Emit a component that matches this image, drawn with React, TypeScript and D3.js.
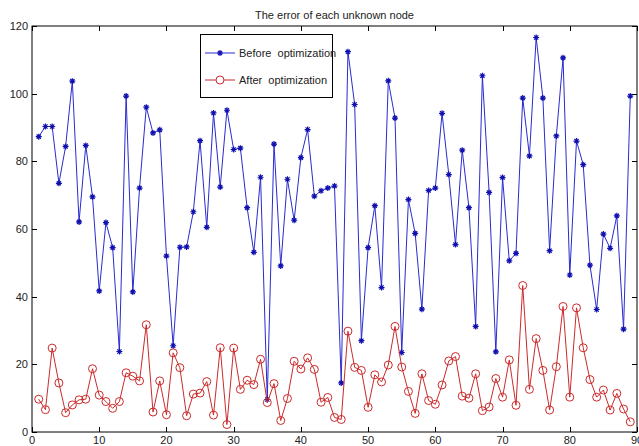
import React, { useEffect, useRef } from 'react';
import * as d3 from 'd3';

const titleText = 'The error of each unknown node';
const seriesNames = ['Before  optimization', 'After  optimization'];
const xTicks = [0, 10, 20, 30, 40, 50, 60, 70, 80, 90];
const yTicks = [0, 20, 40, 60, 80, 100, 120];

// error per node (nodes 1..89)
const before = [
  87.3, 90.3, 90.3, 73.5, 84.4, 103.7, 62.1, 84.7, 69.5, 41.7,
  61.9, 54.5, 23.8, 99.3, 41.4, 72.1, 96.0, 88.4, 89.3, 52.0,
  25.5, 54.6, 54.7, 65.1, 86.1, 60.5, 94.3, 72.4, 95.1, 83.5,
  83.9, 66.3, 53.1, 75.3, 9.6, 85.1, 49.1, 74.7, 62.6, 81.1,
  89.4, 69.7, 71.3, 72.1, 72.7, 14.5, 112.4, 96.8, 27.0, 54.5,
  66.9, 42.7, 103.8, 92.8, 23.5, 68.7, 58.7, 36.3, 71.4, 72.1,
  94.2, 76.1, 55.4, 83.3, 66.3, 31.2, 105.3, 70.8, 23.7, 75.2,
  50.6, 52.8, 98.7, 81.6, 116.6, 98.7, 53.6, 87.5, 110.6, 46.4,
  86.0, 79.0, 49.3, 36.2, 58.5, 54.3, 63.9, 30.4, 99.3,
];
const after = [
  9.7, 6.6, 24.8, 14.5, 5.7, 8.0, 9.5, 9.7, 18.7, 10.9,
  9.0, 7.0, 9.0, 17.5, 16.5, 15.1, 31.7, 5.9, 15.1, 5.1,
  23.4, 19.0, 4.8, 11.2, 11.5, 14.9, 5.0, 24.9, 2.2, 24.8,
  12.6, 15.3, 14.0, 21.5, 8.7, 14.3, 3.4, 9.9, 20.9, 18.6,
  21.9, 18.5, 8.8, 10.2, 4.3, 3.7, 29.8, 19.1, 18.2, 7.3,
  16.9, 14.8, 19.8, 31.2, 19.2, 12.0, 5.5, 17.2, 9.3, 8.2,
  13.9, 21.0, 22.3, 10.6, 10.0, 17.2, 6.3, 7.4, 15.8, 10.3,
  21.3, 7.9, 43.3, 12.6, 27.6, 18.2, 6.5, 19.3, 37.1, 10.3,
  36.7, 24.9, 15.5, 10.3, 12.4, 6.5, 11.4, 6.8, 3.0,
];

const blue = '#2a2ad0';
const red = '#cc2a2a';
const font = '"Liberation Sans Narrow", "Liberation Sans", Arial, sans-serif';

export default function App() {
  const ref = useRef<SVGSVGElement | null>(null);

  useEffect(() => {
    document.body.style.margin = '0';
    if (!ref.current) return;
    const width = 639;
    const height = 446;
    const margin = { top: 26, right: 2, bottom: 14, left: 32 };

    const svg = d3.select(ref.current);
    svg.selectAll('*').remove();
    svg.attr('width', width).attr('height', height);
    svg.append('rect').attr('width', width).attr('height', height).attr('fill', '#fff');

    const x = d3.scaleLinear().domain([0, 90]).range([margin.left, width - margin.right]);
    const y = d3.scaleLinear().domain([0, 120]).range([height - margin.bottom, margin.top]);

    const x0 = x(0), x1 = x(90), y0 = y(0), y1 = y(120);

    // ticks on all four sides, pointing in
    const g = svg.append('g').attr('stroke', '#000').attr('stroke-width', 1);
    xTicks.forEach(t => {
      const px = Math.round(x(t)) + 0.5;
      g.append('line').attr('x1', px).attr('x2', px).attr('y1', y0).attr('y2', y0 - 5);
      g.append('line').attr('x1', px).attr('x2', px).attr('y1', y1).attr('y2', y1 + 5);
    });
    yTicks.forEach(t => {
      const py = Math.round(y(t)) + 0.5;
      g.append('line').attr('x1', x0).attr('x2', x0 + 5).attr('y1', py).attr('y2', py);
      g.append('line').attr('x1', x1).attr('x2', x1 - 5).attr('y1', py).attr('y2', py);
    });

    const labels = svg.append('g').attr('font-family', font).attr('font-size', 11).attr('fill', '#222');
    xTicks.forEach(t => {
      labels.append('text').attr('x', x(t)).attr('y', y0 + 12).attr('text-anchor', 'middle').text(t);
    });
    yTicks.forEach(t => {
      labels.append('text').attr('x', x0 - 4).attr('y', y(t) + 4).attr('text-anchor', 'end').text(t);
    });

    svg.append('text').attr('x', (x0 + x1) / 2).attr('y', 19).attr('text-anchor', 'middle')
      .attr('font-family', font).attr('font-size', 11).attr('fill', '#222').text(titleText);

    const idx = d3.range(1, before.length + 1);

    const star = (cx: number, cy: number, r: number) =>
      `M${cx - r},${cy}L${cx + r},${cy}M${cx},${cy - r}L${cx},${cy + r}` +
      `M${cx - r * 0.7},${cy - r * 0.7}L${cx + r * 0.7},${cy + r * 0.7}` +
      `M${cx - r * 0.7},${cy + r * 0.7}L${cx + r * 0.7},${cy - r * 0.7}`;

    const drawSeries = (vals: number[], color: string, marker: 'star' | 'circle') => {
      const pathGen = d3.line<number>().x((_, k) => x(idx[k])).y(v => y(v));
      svg.append('path').attr('d', pathGen(vals) || '').attr('fill', 'none')
        .attr('stroke', color).attr('stroke-width', 1);
      const mg = svg.append('g');
      vals.forEach((v, k) => {
        if (marker === 'circle') {
          mg.append('circle').attr('cx', x(idx[k])).attr('cy', y(v)).attr('r', 4)
            .attr('fill', 'none').attr('stroke', color).attr('stroke-width', 1);
        } else {
          mg.append('path').attr('d', star(x(idx[k]), y(v), 3)).attr('stroke', '#1010b0')
            .attr('stroke-width', 1.2);
        }
      });
    };
    drawSeries(before, blue, 'star');
    drawSeries(after, red, 'circle');

    // frame
    svg.append('rect').attr('x', x0).attr('y', y1).attr('width', x1 - x0).attr('height', y0 - y1)
      .attr('fill', 'none').attr('stroke', '#000').attr('stroke-width', 1);

    // legend
    const lg = svg.append('g');
    lg.append('rect').attr('x', 200.5).attr('y', 34.5).attr('width', 132).attr('height', 63)
      .attr('fill', '#fff').attr('stroke', '#000');
    const items = [
      { name: seriesNames[0], color: blue, marker: 'star', yy: 53 },
      { name: seriesNames[1], color: red, marker: 'circle', yy: 80 },
    ];
    items.forEach(it => {
      lg.append('line').attr('x1', 205).attr('x2', 235).attr('y1', it.yy).attr('y2', it.yy)
        .attr('stroke', it.color);
      if (it.marker === 'circle') {
        lg.append('circle').attr('cx', 220).attr('cy', it.yy).attr('r', 4).attr('fill', '#fff')
          .attr('stroke', it.color);
      } else {
        lg.append('path').attr('d', star(220, it.yy, 3)).attr('stroke', '#1010b0').attr('stroke-width', 1.2);
      }
      lg.append('text').attr('x', 239).attr('y', it.yy + 4).attr('font-family', font)
        .attr('font-size', 11).attr('fill', '#222').style('white-space', 'pre').text(it.name);
    });
  }, []);

  return <svg ref={ref} style={{ display: 'block' }}></svg>;
}
